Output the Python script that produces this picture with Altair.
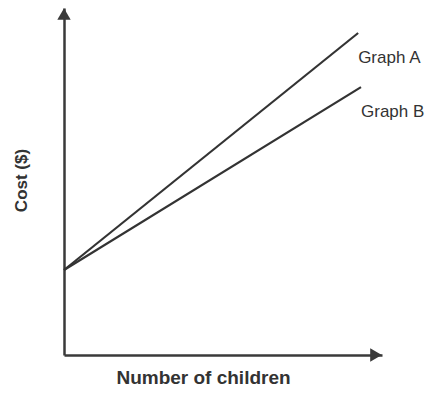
import altair as alt
import pandas as pd

# Two cost lines sharing the same fixed starting cost
series = ["Graph A", "Graph A", "Graph B", "Graph B"]
children = [0.0, 9.25, 0.0, 9.34]
cost = [2.45, 9.28, 2.45, 7.72]

label_names = ["Graph A", "Graph B"]
label_x = [9.25, 9.34]
label_y = [9.28, 7.72]

X_MAX = 10
Y_MAX = 10

lines_df = pd.DataFrame({"series": series, "children": children, "cost": cost})
labels_df = pd.DataFrame({"name": label_names, "children": label_x, "cost": label_y})

ink = "#333333"
font = "Liberation Sans"

x_scale = alt.Scale(domain=[0, X_MAX], nice=False, zero=False)
y_scale = alt.Scale(domain=[0, Y_MAX], nice=False, zero=False)

x_axis = alt.Axis(
    title="Number of children", labels=False, ticks=False, grid=False,
    domainColor="#3a3a3a", domainWidth=2.5, titleFont=font, titleFontSize=19,
    titleFontWeight="bold", titleColor=ink, titlePadding=13, titleX=139,
)
y_axis = alt.Axis(
    title="Cost ($)", labels=False, ticks=False, grid=False,
    domainColor="#3a3a3a", domainWidth=2.5, titleFont=font, titleFontSize=17,
    titleFontWeight="bold", titleColor=ink, titlePadding=34, titleY=172,
)

lines = alt.Chart(lines_df).mark_line(color=ink, strokeWidth=2.2).encode(
    x=alt.X("children:Q", scale=x_scale, axis=x_axis),
    y=alt.Y("cost:Q", scale=y_scale, axis=y_axis),
    detail="series:N",
)

labels = alt.Chart(labels_df).mark_text(
    align="left", baseline="middle", dx=0, dy=25, font=font, fontSize=17, color=ink
).encode(
    x=alt.X("children:Q", scale=x_scale),
    y=alt.Y("cost:Q", scale=y_scale),
    text="name:N",
)

# Arrowheads at the ends of both axes
up_arrow = alt.Chart(pd.DataFrame({"children": [0], "cost": [Y_MAX]})).mark_point(
    shape="triangle-up", size=180, filled=True, opacity=1, color="#3a3a3a", yOffset=6
).encode(x=alt.X("children:Q", scale=x_scale), y=alt.Y("cost:Q", scale=y_scale))

right_arrow = alt.Chart(pd.DataFrame({"children": [X_MAX], "cost": [0]})).mark_point(
    shape="triangle-right", size=180, filled=True, opacity=1, color="#3a3a3a", xOffset=-6
).encode(x=alt.X("children:Q", scale=x_scale), y=alt.Y("cost:Q", scale=y_scale))

chart = (
    alt.layer(lines, labels, up_arrow, right_arrow)
    .properties(
        width=318, height=347, autosize="none",
        padding={"left": 64, "top": 8, "right": 64, "bottom": 53},
        background="white",
    )
    .configure_view(stroke=None)
)

chart.save("out.html", embed_options={"renderer": "svg", "actions": False})
